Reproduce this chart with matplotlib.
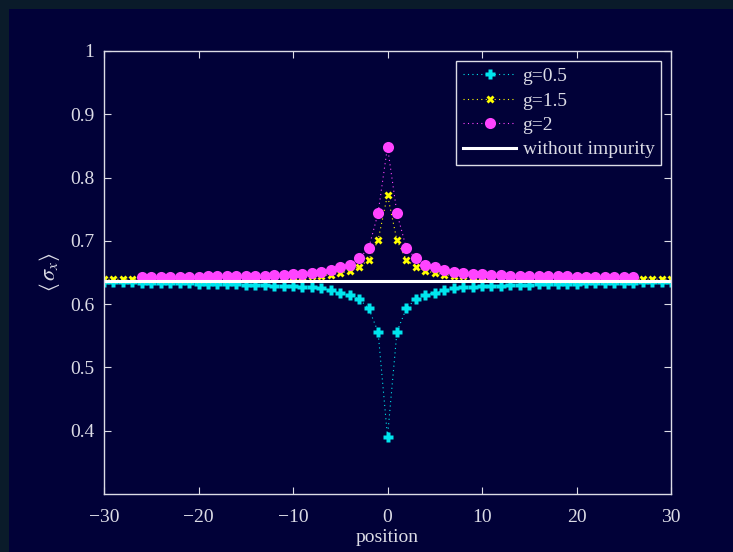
import matplotlib
matplotlib.use("Agg")
import matplotlib.pyplot as plt
from matplotlib.patches import Rectangle

# data
positions = list(range(-30, 31))
positions_g2 = list(range(-26, 27))

sigma_g05 = [0.6348, 0.6346, 0.6344, 0.6342, 0.6340, 0.6338, 0.6336, 0.6334, 0.6331, 0.6329,
             0.6326, 0.6323, 0.6320, 0.6317, 0.6313, 0.6309, 0.6304, 0.6299, 0.6293, 0.6287,
             0.6280, 0.6275, 0.6266, 0.6250, 0.6223, 0.6181, 0.6144, 0.6081, 0.5934, 0.5564,
             0.3905,
             0.5564, 0.5934, 0.6081, 0.6144, 0.6181, 0.6223, 0.6250, 0.6266, 0.6275, 0.6280,
             0.6287, 0.6293, 0.6299, 0.6304, 0.6309, 0.6313, 0.6317, 0.6320, 0.6323, 0.6326,
             0.6329, 0.6331, 0.6334, 0.6336, 0.6338, 0.6340, 0.6342, 0.6344, 0.6346, 0.6348]

sigma_g15 = [0.6392, 0.6392, 0.6393, 0.6394, 0.6395, 0.6396, 0.6397, 0.6398, 0.6399, 0.6400,
             0.6401, 0.6402, 0.6403, 0.6405, 0.6407, 0.6409, 0.6411, 0.6414, 0.6417, 0.6421,
             0.6426, 0.6432, 0.6440, 0.6450, 0.6465, 0.6490, 0.6529, 0.6592, 0.6697, 0.7008,
             0.7724,
             0.7008, 0.6697, 0.6592, 0.6529, 0.6490, 0.6465, 0.6450, 0.6440, 0.6432, 0.6426,
             0.6421, 0.6417, 0.6414, 0.6411, 0.6409, 0.6407, 0.6405, 0.6403, 0.6402, 0.6401,
             0.6400, 0.6399, 0.6398, 0.6397, 0.6396, 0.6395, 0.6394, 0.6393, 0.6392, 0.6392]

sigma_g2 = [0.6434, 0.6434, 0.6434, 0.6434, 0.6435, 0.6435, 0.6436, 0.6437, 0.6438, 0.6440,
            0.6442, 0.6445, 0.6448, 0.6452, 0.6457, 0.6463, 0.6470, 0.6478, 0.6497, 0.6512,
            0.6540, 0.6582, 0.6618, 0.6724, 0.6882, 0.7435,
            0.8488,
            0.7435, 0.6882, 0.6724, 0.6618, 0.6582, 0.6540, 0.6512, 0.6497, 0.6478, 0.6470,
            0.6463, 0.6457, 0.6452, 0.6448, 0.6445, 0.6442, 0.6440, 0.6438, 0.6437, 0.6436,
            0.6435, 0.6435, 0.6434, 0.6434, 0.6434, 0.6434]

no_impurity = 0.6366  # 2/pi

xticks = [-30, -20, -10, 0, 10, 20, 30]
xtick_labels = ["\u221230", "\u221220", "\u221210", "0", "10", "20", "30"]
yticks = [0.4, 0.5, 0.6, 0.7, 0.8, 0.9, 1.0]
ytick_labels = ["0.4", "0.5", "0.6", "0.7", "0.8", "0.9", "1"]

navy = "#010138"
border = "#0a1b2a"
fg = "#dcdce6"
dots = (0, (1, 3))

plt.rcParams["font.family"] = ["Liberation Serif", "DejaVu Serif"]
plt.rcParams["mathtext.fontset"] = "stix"

fig = plt.figure(figsize=(7.33, 5.52), dpi=100)
fig.patch.set_facecolor(navy)
# thin frame strips on the left and top
fig.patches.append(Rectangle((0, 0), 9 / 733, 1, transform=fig.transFigure,
                             facecolor=border, edgecolor="none", zorder=-10))
fig.patches.append(Rectangle((0, 1 - 9 / 552), 1, 9 / 552, transform=fig.transFigure,
                             facecolor=border, edgecolor="none", zorder=-10))

ax = fig.add_axes([104 / 733, 1 - 494 / 552, 567 / 733, 443 / 552])
ax.set_facecolor(navy)

ax.plot(positions, sigma_g05, linestyle=dots, color="#00e5ee", lw=0.8, marker="P", ms=6.5,
        mec="none", label="g=0.5")
ax.plot(positions, sigma_g15, linestyle=dots, color="#ffff00", lw=0.8, marker="X", ms=5.5,
        mec="none", label="g=1.5")
ax.plot(positions_g2, sigma_g2, linestyle=dots, color="#ff44ff", lw=0.8, marker="o", ms=8,
        mec="none", label="g=2")
ax.axhline(no_impurity, color="white", lw=2.2, label="without impurity")

ax.set_xlim(-30, 30)
ax.set_ylim(0.3, 1.0)
ax.set_xticks(xticks)
ax.set_xticklabels(xtick_labels)
ax.set_yticks(yticks)
ax.set_yticklabels(ytick_labels)
ax.tick_params(direction="in", top=True, right=True, colors=fg, labelsize=14,
               length=5, width=0.8, pad=7)
ax.tick_params(axis="x", pad=11)
for s in ax.spines.values():
    s.set_color(fg)
    s.set_linewidth(1.0)

ax.set_xlabel("position", color=fg, fontsize=14, labelpad=2)
ax.set_ylabel(r"$\langle\,\sigma_x\rangle$", color=fg, fontsize=16, labelpad=6)

leg = ax.legend(loc="upper right", fontsize=14, frameon=True, fancybox=False,
                borderaxespad=0.5, handlelength=2.7, handletextpad=0.35,
                labelspacing=0.35, borderpad=0.35)
leg.get_frame().set_facecolor(navy)
leg.get_frame().set_edgecolor(fg)
leg.get_frame().set_alpha(1)
for t in leg.get_texts():
    t.set_color(fg)

fig.savefig("out.png", dpi=100, facecolor=fig.get_facecolor())
